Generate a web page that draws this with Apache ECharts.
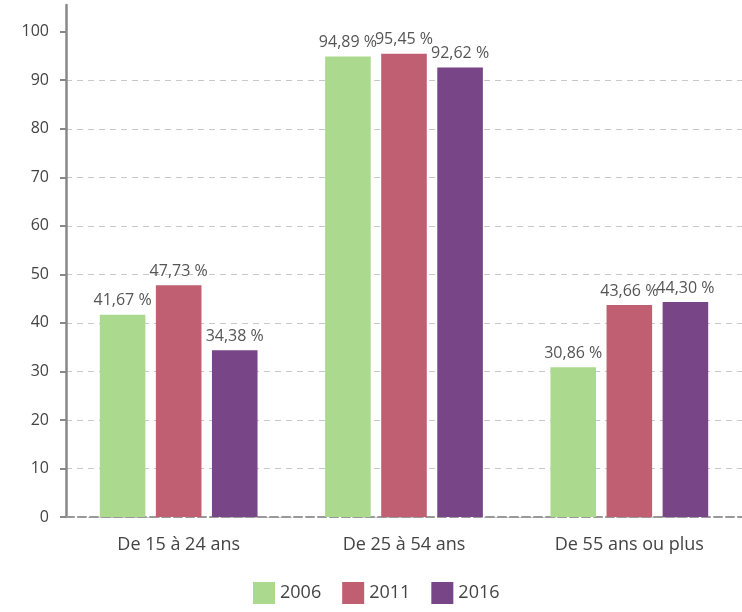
<!DOCTYPE html>
<html><head><meta charset="utf-8">
<script src="https://cdn.jsdelivr.net/npm/echarts@6/dist/echarts.min.js"></script>
<style>html,body{margin:0;padding:0;background:#fff}#c{width:742px;height:612px}</style>
</head><body><div id="c"></div>
<script>
var categories = ['De 15 à 24 ans', 'De 25 à 54 ans', 'De 55 ans ou plus'];
var seriesNames = ['2006', '2011', '2016'];
var values2006 = [41.67, 94.89, 30.86];
var values2011 = [47.73, 95.45, 43.66];
var values2016 = [34.38, 92.62, 44.30];
var yTicks = [0, 10, 20, 30, 40, 50, 60, 70, 80, 90, 100];
var colors = ['#abda8f', '#c05f71', '#784586'];
var font = '"Open Sans", sans-serif';
var chart = echarts.init(document.getElementById('c'));
function fmt(p){ return p.value.toFixed(2).replace('.', ',') + ' %'; }
var data = [values2006, values2011, values2016];
chart.setOption({
  animation: false,
  color: colors,
  textStyle: {fontFamily: font},
  grid: {left: 66, right: 0, top: 5, bottom: 95, containLabel: false},
  legend: {
    bottom: 3, left: 248, itemWidth: 22, itemHeight: 22, itemGap: 21,
    icon: 'rect',
    textStyle: {fontSize: 18, color: '#444', fontFamily: font},
    data: seriesNames
  },
  xAxis: {
    type: 'category', data: categories,
    axisLine: {lineStyle: {color: '#999', width: 2, type: 'dashed'}},
    axisTick: {alignWithLabel: true, length: 6, lineStyle: {color: '#888', width: 2}},
    axisLabel: {fontSize: 18, color: '#444', margin: 19, fontFamily: font}
  },
  yAxis: {
    type: 'value', min: 0, max: 105.5, interval: 10,
    axisLine: {show: true, lineStyle: {color: '#888', width: 2.5}},
    axisTick: {show: true, length: 6, customValues: yTicks, lineStyle: {color: '#888', width: 2}},
    axisLabel: {fontSize: 16, color: '#444', margin: 17, customValues: yTicks, fontFamily: font},
    splitLine: {show: true, showMaxLine: false, lineStyle: {color: '#c8c8c8', type: [6, 5], width: 1}}
  },
  series: seriesNames.map(function(n, i){
    return {
      name: n, type: 'bar', data: data[i],
      barGap: '23%', barCategoryGap: '30%',
      label: {show: true, position: 'top', distance: 6, formatter: fmt, fontSize: 16, color: '#555', fontFamily: font}
    };
  })
});
</script></body></html>
